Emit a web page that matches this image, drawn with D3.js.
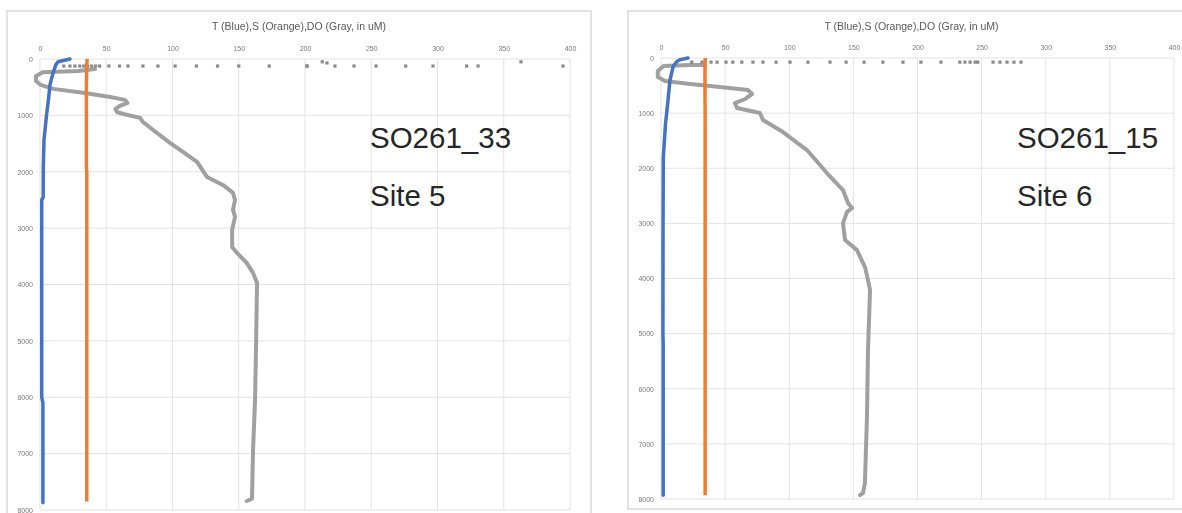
<!DOCTYPE html>
<html>
<head>
<meta charset="utf-8">
<script src="https://cdn.jsdelivr.net/npm/d3@7"></script>
<style>
  html, body { margin: 0; padding: 0; background: #ffffff; }
  svg { display: block; }
</style>
</head>
<body>
<svg id="chart" width="1182" height="513"></svg>
<script>
// Axis ticks shared by both profiles
const depthTicks = [0, 1000, 2000, 3000, 4000, 5000, 6000, 7000, 8000];
const valueTicks = [0, 50, 100, 150, 200, 250, 300, 350, 400];
const chartTitle = "T (Blue),S (Orange),DO (Gray, in uM)";

// ---- SO261_33, Site 5 ----
const s33TempDepth = [0, 50, 100, 250, 460, 720, 1000, 1440, 1900, 2450, 2500, 6000, 6100, 7870];
const s33Temp      = [22.6, 13.6, 12, 9.8, 7.5, 6.4, 4.9, 3.0, 2.5, 2.4, 1.3, 1.3, 2.2, 2.2];
const s33SalDepth  = [0, 100, 500, 1900, 2000, 7850];
const s33Sal       = [35.6, 35.3, 35.0, 35.0, 35.3, 35.3];
const s33OxyDepth  = [177, 213, 235, 300, 390, 460, 530, 600, 675, 725, 780, 835, 885, 940, 975, 1045, 1117, 1312, 1489, 1649, 1826, 2092, 2234, 2376, 2500, 2677, 2801, 3032, 3333, 3440, 3617, 3794, 3972, 5160, 6046, 6933, 7800, 7840];
const s33Oxy       = [41.5, 28.7, 2.0, -3.0, -3.0, 0.5, 10, 32.5, 53, 64, 66, 60, 57, 58, 63, 75.5, 77.7, 88.3, 98.1, 107.9, 118.5, 126, 138, 145.7, 147.2, 145.7, 147.2, 145, 145, 148.7, 156, 160.8, 163.8, 163, 162.3, 160.8, 160, 156];
const s33DotDepth  = [125, 125, 125, 125, 125, 125, 125, 125, 125, 125, 125, 125, 125, 125, 125, 125, 125, 125, 125, 125, 125, 50, 70, 125, 125, 125, 125, 125, 125, 125, 50, 125];
const s33DotOxy    = [18, 22.6, 26.4, 30, 33, 36, 39, 42, 45, 52, 60, 66.4, 77.7, 89, 102, 118, 134, 150, 173, 201.5, 201.5, 213, 216.6, 222.6, 237, 253.6, 276, 296.6, 322, 330.6, 363, 394.7];

// ---- SO261_15, Site 6 ----
const s15TempDepth = [0, 30, 60, 150, 400, 760, 1200, 1800, 3000, 5000, 5200, 7930];
const s15Temp      = [21, 15, 12.5, 9.5, 7, 5.5, 3.5, 1.8, 1.6, 1.5, 1.7, 1.7];
const s15SalDepth  = [0, 100, 800, 900, 7930];
const s15Sal       = [34.5, 34.3, 34.3, 34.4, 34.4];
const s15OxyDepth  = [127, 127, 145, 236, 345, 417, 472, 526, 581, 653, 744, 817, 907, 998, 1125, 1343, 1670, 2087, 2396, 2632, 2722, 2795, 2995, 3303, 3485, 3793, 4029, 4211, 5299, 6515, 7713, 7895, 7931];
const s15Oxy       = [34.3, 22.6, 2.0, -2.5, -2.5, 3.1, 22.6, 46, 67.8, 71, 65.5, 57.7, 59.3, 77.2, 79.5, 95.1, 113.8, 129.4, 141.9, 145.8, 148.9, 145, 141.9, 143.5, 152.8, 159.1, 161.4, 163, 161.4, 160.6, 159, 157.5, 155.2];
const s15DotDepth  = [75, 75, 75, 75, 75, 75, 75, 75, 75, 75, 75, 75, 75, 75, 75, 75, 75, 75, 75, 75, 75, 75, 75, 75, 75, 75, 75, 75, 75];
const s15DotOxy    = [24, 32, 39, 43.7, 50.7, 56, 63, 71.7, 79.5, 89.7, 100.6, 114.6, 131.8, 144.3, 158.3, 173, 188.7, 202.7, 218.3, 233, 237, 241, 245, 247, 258.9, 264.3, 269.8, 275.2, 280.7];

const zip = (depths, values) => depths.map((d, i) => [d, values[i]]);

const panels = [
  {
    name: "SO261_33", site: "Site 5",
    frame: { x: 7, y: 11, w: 584, h: 520 },
    plot: { x0: 40, x1: 570, y0: 59, y1: 510 },
    labelX: 370,
    temp: zip(s33TempDepth, s33Temp),
    sal: zip(s33SalDepth, s33Sal),
    oxy: zip(s33OxyDepth, s33Oxy),
    dots: zip(s33DotDepth, s33DotOxy)
  },
  {
    name: "SO261_15", site: "Site 6",
    frame: { x: 628, y: 11, w: 600, h: 498 },
    plot: { x0: 661, x1: 1174, y0: 58, y1: 499 },
    labelX: 1017,
    temp: zip(s15TempDepth, s15Temp),
    sal: zip(s15SalDepth, s15Sal),
    oxy: zip(s15OxyDepth, s15Oxy),
    dots: zip(s15DotDepth, s15DotOxy)
  }
];

const svg = d3.select("#chart");
const font = "'Liberation Sans', Arial, sans-serif";

// the embedded chart graphics are slightly soft
svg.append("defs").append("filter").attr("id", "soft")
  .attr("x", "-5%").attr("y", "-5%").attr("width", "110%").attr("height", "110%")
  .append("feGaussianBlur").attr("stdDeviation", 0.6);

panels.forEach(p => {
  const g = svg.append("g").attr("filter", "url(#soft)");
  const x = d3.scaleLinear().domain([0, 400]).range([p.plot.x0, p.plot.x1]);
  const y = d3.scaleLinear().domain([0, 8000]).range([p.plot.y0, p.plot.y1]);

  // chart frame
  g.append("rect")
    .attr("x", p.frame.x).attr("y", p.frame.y)
    .attr("width", p.frame.w).attr("height", p.frame.h)
    .attr("fill", "#ffffff").attr("stroke", "#d9d9d9").attr("stroke-width", 1.5);

  // title
  g.append("text")
    .attr("x", (p.plot.x0 + p.plot.x1) / 2 - 6).attr("y", 30)
    .attr("text-anchor", "middle")
    .attr("font-family", font).attr("font-size", 10.5)
    .attr("fill", "#595959")
    .text(chartTitle);

  // gridlines
  g.append("g").selectAll("line").data(valueTicks).join("line")
    .attr("x1", d => x(d)).attr("x2", d => x(d))
    .attr("y1", p.plot.y0).attr("y2", p.plot.y1)
    .attr("stroke", "#e3e3e3").attr("stroke-width", 1);
  g.append("g").selectAll("line").data(depthTicks).join("line")
    .attr("x1", p.plot.x0).attr("x2", p.plot.x1)
    .attr("y1", d => y(d)).attr("y2", d => y(d))
    .attr("stroke", "#e3e3e3").attr("stroke-width", 1);

  // axes (labels only)
  const top = g.append("g")
    .attr("transform", `translate(0,${p.plot.y0 - 8})`)
    .call(d3.axisTop(x).tickValues(valueTicks).tickSize(0).tickPadding(0).tickFormat(d3.format("d")));
  const left = g.append("g")
    .attr("transform", `translate(${p.plot.x0 - 7},0)`)
    .call(d3.axisLeft(y).tickValues(depthTicks).tickSize(0).tickPadding(0).tickFormat(d3.format("d")));
  [top, left].forEach(a => {
    a.select(".domain").remove();
    a.selectAll("text")
      .attr("font-family", font).attr("font-size", 7)
      .attr("fill", "#7a7a7a");
  });

  const line = d3.line().x(d => x(d[1])).y(d => y(d[0])).curve(d3.curveLinear);

  // dissolved oxygen
  g.append("path").datum(p.oxy)
    .attr("d", line).attr("fill", "none")
    .attr("stroke", "#a0a0a0").attr("stroke-width", 4)
    .attr("stroke-linejoin", "round").attr("stroke-linecap", "round");
  g.append("g").selectAll("rect").data(p.dots).join("rect")
    .attr("x", d => x(d[1]) - 1.6).attr("y", d => y(d[0]) - 1.6)
    .attr("width", 3.2).attr("height", 3.2).attr("fill", "#8a8a8a");

  // salinity
  g.append("path").datum(p.sal)
    .attr("d", line).attr("fill", "none")
    .attr("stroke", "#ed7d31").attr("stroke-width", 3.5)
    .attr("stroke-linejoin", "round");

  // temperature
  g.append("path").datum(p.temp)
    .attr("d", line).attr("fill", "none")
    .attr("stroke", "#4472c4").attr("stroke-width", 3.5)
    .attr("stroke-linejoin", "round").attr("stroke-linecap", "round");

  // station labels
  svg.append("text")
    .attr("x", p.labelX).attr("y", 148)
    .attr("font-family", font).attr("font-size", 29.5)
    .attr("fill", "#262626")
    .text(p.name);
  svg.append("text")
    .attr("x", p.labelX).attr("y", 206)
    .attr("font-family", font).attr("font-size", 29.5)
    .attr("fill", "#262626")
    .text(p.site);
});
</script>
</body>
</html>
